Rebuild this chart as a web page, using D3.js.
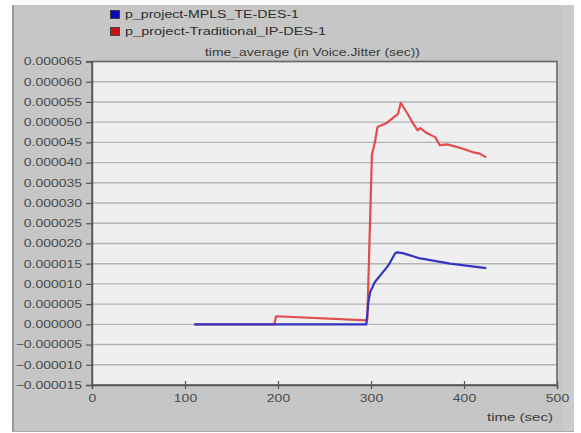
<!DOCTYPE html>
<html><head><meta charset="utf-8">
<script src="https://cdn.jsdelivr.net/npm/d3@7"></script>
<style>body{margin:0;background:#fff}svg{display:block;font-family:"Liberation Sans",Arial,sans-serif}</style>
</head><body><svg id="c" width="581" height="433"></svg>
<script>
const seriesNames = ["p_project-MPLS_TE-DES-1", "p_project-Traditional_IP-DES-1"];
const seriesColors = ["#3434c0", "#e03c3c"];
const legendColors = ["#0a0ab4", "#c41414"];
const chartTitle = "time_average (in Voice.Jitter (sec))";
const xLabel = "time (sec)";
const xTicks = [0, 100, 200, 300, 400, 500];
const yTicks = [-0.000015,-0.00001,-0.000005,0,0.000005,0.00001,0.000015,0.00002,0.000025,0.00003,0.000035,0.00004,0.000045,0.00005,0.000055,0.00006,0.000065];
// time (sec)
const mplsTime = [110, 295, 297, 299, 304, 310, 317, 320, 326, 328, 334, 353, 385, 424];
// jitter (micro-sec)
const mplsVal  = [0, 0, 5.2, 7.9, 10.4, 12.1, 14.1, 15.1, 17.6, 17.8, 17.6, 16.3, 15.0, 13.9];
const ipTime = [110, 196, 198, 296, 301, 304, 307, 317, 326, 329, 332, 339, 345, 350, 353, 360, 369, 374, 382, 390, 398, 409, 417, 424];
const ipVal  = [0, 0, 2.0, 1.0, 42, 44.8, 48.8, 49.8, 51.5, 52, 54.8, 52.2, 49.8, 48, 48.5, 47.3, 46.3, 44.3, 44.5, 44, 43.5, 42.6, 42.2, 41.3];

const svg = d3.select("#c");
const L = 92, R = 557, T = 61.5, B = 385;
const x = d3.scaleLinear().domain([0, 500]).range([L, R]);
const y = d3.scaleLinear().domain([-0.000015, 0.000065]).range([B, T]);
const SX = 1.33;

// panel
svg.append("rect").attr("x", 12).attr("y", 5).attr("width", 562).attr("height", 427).attr("fill", "#c6c6c6");
svg.append("rect").attr("x", 563).attr("y", 5).attr("width", 11).attr("height", 427).attr("fill", "#cbcbcb");
svg.append("line").attr("x1", 13).attr("x2", 13).attr("y1", 5).attr("y2", 432).attr("stroke", "#8a8a8a").attr("stroke-width", 1.5);
svg.append("line").attr("x1", 12).attr("x2", 574).attr("y1", 431.5).attr("y2", 431.5).attr("stroke", "#a8a8a8").attr("stroke-width", 1);

// plot background
svg.append("rect").attr("x", L).attr("y", T).attr("width", R - L).attr("height", B - T).attr("fill", "#efefef");

// grid
svg.append("g").selectAll("line").data(yTicks).join("line")
  .attr("x1", L).attr("x2", R).attr("y1", d => y(d)).attr("y2", d => y(d))
  .attr("stroke", "#b4b4b4").attr("stroke-width", 1.4);

// border
svg.append("rect").attr("x", L).attr("y", T).attr("width", R - L).attr("height", B - T)
  .attr("fill", "none").attr("stroke", "#6a6a6a").attr("stroke-width", 1.6);

// y axis
const ya = svg.append("g").attr("transform", `translate(${L},0)`)
  .call(d3.axisLeft(y).tickValues(yTicks).tickFormat(d3.format(".6f")).tickSize(6).tickPadding(4));
ya.select(".domain").attr("stroke", "#555").attr("stroke-width", 1.4);
ya.selectAll(".tick line").attr("stroke", "#555").attr("stroke-width", 1.2);
ya.selectAll(".tick text").attr("fill", "#4a4a4a").attr("font-size", 10.5)
  .attr("x", 0).attr("transform", `translate(-10,0) scale(${SX},1)`);

// x axis
const xa = svg.append("g").attr("transform", `translate(0,${B})`)
  .call(d3.axisBottom(x).tickValues(xTicks).tickFormat(d3.format("d")).tickSize(4).tickPadding(3));
xa.select(".domain").attr("stroke", "#555").attr("stroke-width", 1.4);
xa.selectAll(".tick line").attr("stroke", "#555").attr("stroke-width", 1.2).attr("y1", -4);
xa.selectAll(".tick text").attr("fill", "#4a4a4a").attr("font-size", 10.5)
  .attr("y", 0).attr("dy", 0).attr("transform", `translate(0,17) scale(${SX},1)`);

// lines
const line = d3.line().x(d => x(d[0])).y(d => y(d[1] * 1e-6));
const ipData = ipTime.map((t, i) => [t, ipVal[i]]);
const mplsData = mplsTime.map((t, i) => [t, mplsVal[i]]);
svg.append("path").datum(ipData).attr("d", line).attr("fill", "none")
  .attr("stroke", seriesColors[1]).attr("stroke-width", 2.2).attr("stroke-linejoin", "round").attr("opacity", 0.9);
svg.append("path").datum(mplsData).attr("d", line).attr("fill", "none")
  .attr("stroke", seriesColors[0]).attr("stroke-width", 2.2).attr("stroke-linejoin", "round");

// title
svg.append("text").attr("x", 205).attr("y", 56).attr("font-size", 10).attr("fill", "#3a3a3a")
  .attr("textLength", 215).attr("lengthAdjust", "spacingAndGlyphs").text(chartTitle);

// x label
svg.append("text").attr("x", 487).attr("y", 421).attr("font-size", 10).attr("fill", "#3a3a3a")
  .attr("textLength", 66).attr("lengthAdjust", "spacingAndGlyphs").text(xLabel);

// legend
const legW = [174, 201];
const lg = svg.append("g");
seriesNames.forEach((n, i) => {
  const yy = 10 + i * 17;
  lg.append("rect").attr("x", 110.5).attr("y", yy + 0.5).attr("width", 9).attr("height", 8)
    .attr("fill", legendColors[i]).attr("stroke", "#333").attr("stroke-width", 0.8);
  lg.append("text").attr("x", 125).attr("y", yy + 8).attr("font-size", 10).attr("fill", "#2e2e2e")
    .attr("textLength", legW[i]).attr("lengthAdjust", "spacingAndGlyphs").text(n);
});
</script></body></html>
